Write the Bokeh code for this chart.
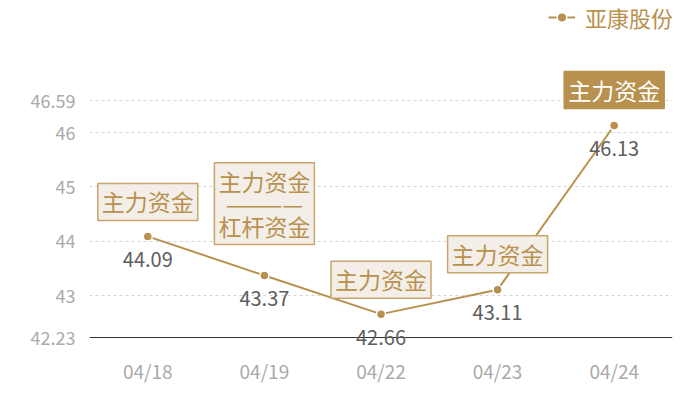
from bokeh.plotting import figure
from bokeh.models import (ColumnDataSource, Range1d, FactorRange, FixedTicker,
                          LabelSet, Label, Legend, LegendItem, Span)
from bokeh.core.properties import value
from bokeh.embed import file_html
from bokeh.resources import INLINE

# ---- data ----
dates = ["04/18", "04/19", "04/22", "04/23", "04/24"]
prices = [44.09, 43.37, 42.66, 43.11, 46.13]
price_labels = ["44.09", "43.37", "42.66", "43.11", "46.13"]
notes = ["主力资金", "主力资金\n————\n杠杆资金", "主力资金", "主力资金", "主力资金"]
series_name = "亚康股份"
ytick_values = [42.23, 43, 44, 45, 46, 46.59]
ytick_labels = ["42.23", "43", "44", "45", "46", "46.59"]

# ---- style / layout ----
GOLD = "#b8914f"
BOX_FILL = "#f3efe8"
BOX_LINE = "#c9a46c"
CJK = "Noto Sans CJK SC"
note_offsets = [16, 31, 16, 17, 17]
highlight = [False, False, False, False, True]

W, H = 700, 400
LEFT, RIGHT, BOTTOM = 89, 28, 53
axis_px = 337               # pixel row of the lowest tick (baseline)
tick_span_px = 237          # pixel height between lowest and highest tick
k = (ytick_values[-1] - ytick_values[0]) / tick_span_px
y_hi = ytick_values[0] + axis_px * k
y_lo = ytick_values[0] - (H - BOTTOM - axis_px) * k

p = figure(width=W, height=H, x_range=FactorRange(*dates),
           y_range=Range1d(y_lo, y_hi),
           output_backend="svg", toolbar_location=None,
           min_border_left=LEFT, min_border_right=RIGHT,
           min_border_top=0, min_border_bottom=BOTTOM)
p.outline_line_color = None
p.background_fill_color = "white"
p.border_fill_color = "white"

# axes
p.xaxis.axis_line_color = None
p.xaxis.major_tick_line_color = None
p.xaxis.minor_tick_line_color = None
p.xaxis.major_label_text_color = "#aaaaaa"
p.xaxis.major_label_text_font = CJK
p.xaxis.major_label_text_font_size = "19px"
p.xaxis.major_label_standoff = 3

p.yaxis.axis_line_color = None
p.yaxis.major_tick_line_color = None
p.yaxis.minor_tick_line_color = None
p.yaxis.major_label_text_color = "#aaaaaa"
p.yaxis.major_label_text_font = CJK
p.yaxis.major_label_text_font_size = "18px"
p.yaxis.major_label_standoff = 8
p.yaxis.ticker = FixedTicker(ticks=ytick_values)
p.yaxis.major_label_overrides = {v: t for v, t in zip(ytick_values, ytick_labels)}

p.xgrid.grid_line_color = None
p.ygrid.grid_line_color = "#d5d5d5"
p.ygrid.grid_line_dash = "3 3"
p.ygrid.grid_line_width = 1
p.ygrid.ticker = FixedTicker(ticks=ytick_values[1:])

# baseline (category axis line) at the lowest tick
p.add_layout(Span(location=ytick_values[0], dimension="width",
                  line_color="#333333", line_width=1))

src = ColumnDataSource(dict(x=dates, y=prices, lab=price_labels))
line_r = p.line("x", "y", source=src, line_color=GOLD, line_width=2)
dot_r = p.scatter("x", "y", source=src, size=9, fill_color=GOLD,
                  line_color="white", line_width=1.5)

# value labels
p.add_layout(LabelSet(x="x", y="y", text="lab", source=src, y_offset=-23,
                      text_align="center", text_baseline="middle",
                      text_color="#5e5e5e", text_font=value(CJK),
                      text_font_size=value("20px")))

# annotation boxes (x given in the categorical range's synthetic coordinates)
for i, (v, n, off, hl) in enumerate(zip(prices, notes, note_offsets, highlight)):
    p.add_layout(Label(x=i + 0.5, y=v, text=n, y_offset=off,
                       text_align="center", text_baseline="bottom",
                       text_font=CJK, text_font_size="23px",
                       text_color="white" if hl else GOLD,
                       text_line_height=0.66,
                       background_fill_color=GOLD if hl else BOX_FILL,
                       border_line_color=GOLD if hl else BOX_LINE,
                       border_line_width=1.5,
                       padding=dict(left=4, right=4, top=1, bottom=2)))

legend = Legend(items=[LegendItem(label=series_name, renderers=[line_r, dot_r])],
                location=(459, H - BOTTOM - 33), orientation="horizontal",
                border_line_color=None, background_fill_alpha=0,
                label_text_color=GOLD, label_text_font=CJK,
                label_text_font_size="22px", glyph_width=27, glyph_height=24,
                label_standoff=10, padding=0, margin=0, spacing=0)
p.add_layout(legend, "center")

open("out.html", "w").write(file_html(p, INLINE))
